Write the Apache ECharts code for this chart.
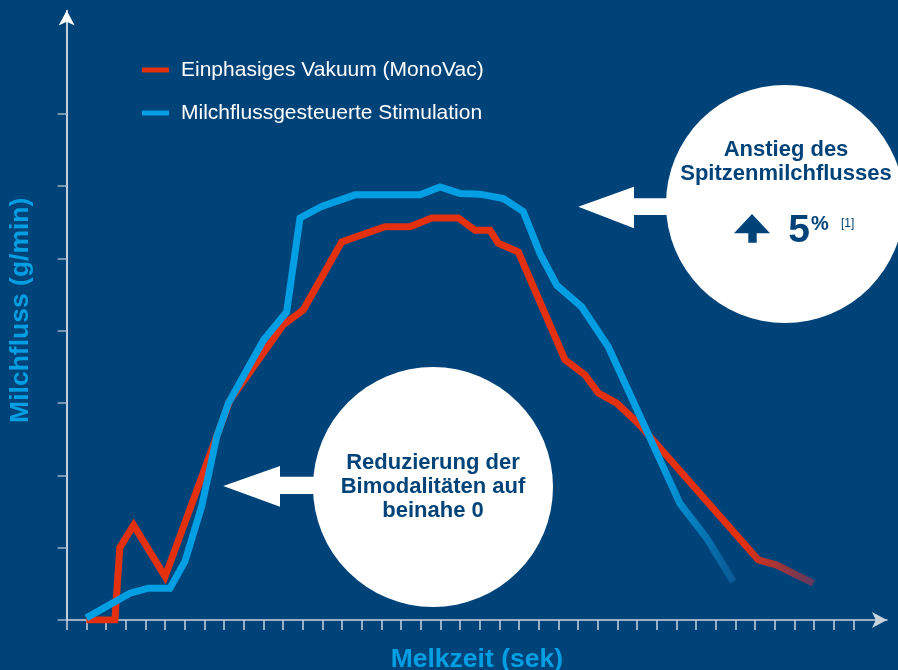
<!DOCTYPE html>
<html>
<head>
<meta charset="utf-8">
<script src="https://cdn.jsdelivr.net/npm/echarts@6/dist/echarts.min.js"></script>
<style>
html,body{margin:0;padding:0;background:#004379;}
#chart{width:898px;height:670px;}
</style>
</head>
<body>
<div id="chart"></div>
<script>
// ---- data ----
const seriesNames = ['Einphasiges Vakuum (MonoVac)', 'Milchflussgesteuerte Stimulation'];
// [Melkzeit (tick units), Milchfluss (tick units)]
const monoVac = [
  [1.0, 0.0], [2.45, 0.0], [2.7, 1.0], [3.4, 1.31], [5.0, 0.6], [8.3, 3.04],
  [11.0, 4.08], [12.03, 4.29], [13.98, 5.23], [16.18, 5.44], [17.45, 5.44],
  [18.56, 5.56], [19.91, 5.56], [20.76, 5.39], [21.52, 5.39], [21.94, 5.21],
  [22.96, 5.09], [25.33, 3.6], [26.35, 3.39], [27.03, 3.14], [27.96, 3.0],
  [29.06, 2.72], [35.16, 0.83], [36.1, 0.76], [37.11, 0.62], [37.96, 0.51]
];
const stimulation = [
  [1.0, 0.03], [3.22, 0.37], [4.15, 0.44], [5.25, 0.44], [6.01, 0.81],
  [6.86, 1.57], [7.63, 2.54], [8.22, 3.0], [10.0, 3.87], [11.18, 4.26],
  [11.86, 5.56], [12.96, 5.72], [14.66, 5.88], [17.96, 5.88], [18.98, 5.99],
  [19.99, 5.9], [21.01, 5.89], [22.2, 5.83], [23.21, 5.65], [24.06, 5.07],
  [24.91, 4.63], [26.18, 4.33], [27.53, 3.78], [31.18, 1.61], [32.54, 1.13],
  [33.89, 0.53]
];
const xTicks = [0,1,2,3,4,5,6,7,8,9,10,11,12,13,14,15,16,17,18,19,20,21,22,23,24,25,26,27,28,29,30,31,32,33,34,35,36,37,38,39,40];
const yTicks = [0,1,2,3,4,5,6,7];
const xAxisName = 'Melkzeit (sek)';
const yAxisName = 'Milchfluss (g/min)';
const noteLeft = 'Reduzierung der\nBimodalitäten auf\nbeinahe 0';
const noteRight = 'Anstieg des\nSpitzenmilchflusses';
const noteValue = '5';

// ---- style ----
const BG = '#004379';
const RED = '#e3300f';
const BLUE = '#009fe3';
const FONT = '"Liberation Sans", Arial, Helvetica, sans-serif';

const chart = echarts.init(document.getElementById('chart'), null, {renderer: 'canvas'});

function fade(color, start, end) {
  return new echarts.graphic.LinearGradient(0, 0, 1, 0, [
    {offset: 0, color: color},
    {offset: start, color: color},
    {offset: 1, color: end}
  ]);
}

const option = {
  backgroundColor: BG,
  animation: false,
  grid: {left: 66.7, right: 11, top: 10.5, bottom: 50, outerBoundsMode: 'none', containLabel: false},
  legend: {
    orient: 'vertical',
    left: 137,
    top: 53,
    itemGap: 19,
    itemWidth: 27,
    itemHeight: 5,
    icon: 'rect',
    data: [
      {name: seriesNames[0], itemStyle: {color: RED}},
      {name: seriesNames[1], itemStyle: {color: BLUE}}
    ],
    textStyle: {color: '#ffffff', fontSize: 21, fontFamily: FONT, lineHeight: 24, padding: [0, 0, 0, 7]}
  },
  xAxis: {
    type: 'value',
    min: 0,
    max: 41.7,
    name: xAxisName,
    nameLocation: 'middle',
    nameGap: 26,
    nameTextStyle: {color: BLUE, fontSize: 26.5, fontWeight: 'bold', fontFamily: FONT},
    axisLine: {show: true, symbol: ['none', 'arrow'], symbolSize: [12, 15], lineStyle: {color: '#c9d3de', width: 1.5}},
    axisTick: {show: true, customValues: xTicks, length: 10, lineStyle: {color: '#c9d3de', width: 1.5}},
    axisLabel: {show: false},
    splitLine: {show: false}
  },
  yAxis: {
    type: 'value',
    min: 0,
    max: 8.43,
    name: yAxisName,
    nameLocation: 'middle',
    nameGap: 33,
    nameTextStyle: {color: BLUE, fontSize: 26.5, fontWeight: 'bold', fontFamily: FONT, padding: [0, 0, 0, 10]},
    axisLine: {show: true, symbol: ['none', 'arrow'], symbolSize: [12, 15], lineStyle: {color: '#ffffff', width: 1.5}},
    axisTick: {show: true, customValues: yTicks, length: 9, lineStyle: {color: '#9fb2c6', width: 1.5}},
    axisLabel: {show: false},
    splitLine: {show: false}
  },
  series: [
    {
      name: seriesNames[0],
      type: 'line',
      data: monoVac,
      showSymbol: false,
      z: 3,
      itemStyle: {color: RED},
      lineStyle: {width: 7, join: 'miter', cap: 'butt', color: fade(RED, 0.9, '#583a66')}
    },
    {
      name: seriesNames[1],
      type: 'line',
      data: stimulation,
      showSymbol: false,
      z: 4,
      itemStyle: {color: BLUE},
      lineStyle: {width: 7, join: 'miter', cap: 'butt', color: fade(BLUE, 0.88, '#0b5792')}
    }
  ],
  graphic: [
    {type: 'circle', z: 10, shape: {cx: 785, cy: 204, r: 119}, style: {fill: '#ffffff'}},
    {type: 'circle', z: 10, shape: {cx: 433, cy: 487, r: 120}, style: {fill: '#ffffff'}},
    {type: 'polygon', z: 10, shape: {points: [[578.3,206.7],[634,186.7],[634,198.3],[700,198.3],[700,215],[634,215],[634,228.3]]}, style: {fill: '#ffffff'}},
    {type: 'polygon', z: 10, shape: {points: [[223.3,486],[280,466],[280,476.7],[340,476.7],[340,494],[280,494],[280,506.7]]}, style: {fill: '#ffffff'}},
    {type: 'polygon', z: 11, shape: {points: [[734,233.3],[752,214],[770,233.3],[756.7,233.3],[756.7,242.7],[748.3,242.7],[748.3,233.3]]}, style: {fill: BG}},
    {type: 'text', z: 11, x: 433, y: 486.5, style: {text: noteLeft, fill: BG, font: 'bold 22px ' + FONT, lineHeight: 24, align: 'center', verticalAlign: 'middle'}},
    {type: 'text', z: 11, x: 786, y: 161.5, style: {text: noteRight, fill: BG, font: 'bold 22px ' + FONT, lineHeight: 24, align: 'center', verticalAlign: 'middle'}},
    {type: 'text', z: 11, x: 799, y: 231, style: {text: noteValue, fill: BG, font: 'bold 39px ' + FONT, align: 'center', verticalAlign: 'middle'}},
    {type: 'text', z: 11, x: 811, y: 224.5, style: {text: '%', fill: BG, font: 'bold 20px ' + FONT, align: 'left', verticalAlign: 'middle'}},
    {type: 'text', z: 11, x: 841, y: 224, style: {text: '[1]', fill: BG, font: '12px ' + FONT, align: 'left', verticalAlign: 'middle'}}
  ]
};
chart.setOption(option);
</script>
</body>
</html>
